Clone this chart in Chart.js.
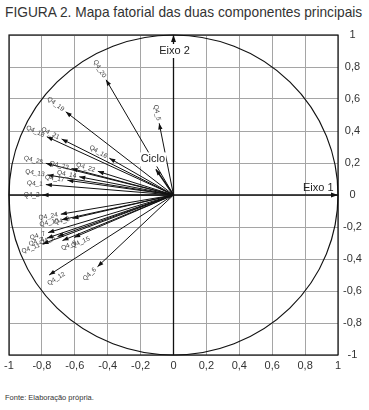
<!DOCTYPE html>
<html lang="pt">
<head>
<meta charset="utf-8">
<script src="https://cdn.jsdelivr.net/npm/chart.js@4.4.0/dist/chart.umd.min.js"></script>
<style>
    body { margin: 0; background: #fff; width: 369px; height: 410px; position: relative; overflow: hidden; }
    #titulo {
        position: absolute; left: 5px; top: 3px; white-space: nowrap;
        font-family: "Liberation Sans", sans-serif;
        font-size: 15px; color: #333; transform-origin: 0 0;
    }
    #grafico { position: absolute; left: 0; top: 0; width: 369px; height: 375px; }
    #fonte {
        position: absolute; left: 5px; top: 393px; white-space: nowrap;
        font-family: "Liberation Sans", sans-serif; font-size: 7.5px; color: #333;
    }
</style>
</head>
<body>
<div id="titulo">FIGURA 2. Mapa fatorial das duas componentes principais</div>
<div id="grafico"><canvas id="mapaFatorial"></canvas></div>
<div id="fonte">Fonte: Elaboração própria.</div>
<script>
// Variáveis e coordenadas nos dois eixos
const variaveis = ['Q4_20', 'Q4_5', 'Q4_19', 'Q4_21', 'Q4_18', 'Q4_16', 'Ciclo', 'Q4_25', 'Q4_23', 'Q4_22',
    'Q4_13', 'Q4_14', 'Q4_17', 'Q4_1', 'Q4_2', 'Q4_24', 'Q4_10', 'Q4_3', 'Q4_7', 'Q4_8',
    'Q4_4', 'Q4_11', 'Q4_9', 'Q4_15', 'Q4_12', 'Q4_6'];
const eixo1 = [-0.41, -0.087, -0.655, -0.68, -0.77, -0.39, -0.107, -0.776, -0.62, -0.46,
    -0.766, -0.573, -0.645, -0.776, -0.796, -0.685, -0.68, -0.614, -0.762, -0.705,
    -0.77, -0.796, -0.675, -0.604, -0.756, -0.462];
const eixo2 = [0.72, 0.448, 0.52, 0.35, 0.364, 0.23, 0.16, 0.198, 0.165, 0.148,
    0.125, 0.114, 0.092, 0.065, 0, -0.12, -0.155, -0.146, -0.235, -0.26,
    -0.27, -0.306, -0.285, -0.265, -0.5, -0.448];

// Rótulos dos eixos
const rotulosX = ['-1', '-0,8', '-0,6', '-0,4', '-0,2', '0', '0,2', '0,4', '0,6', '0,8', '1'];
const rotulosY = ['-1', '-0,8', '-0,6', '-0,4', '-0,2', '0', '0,2', '0,4', '0,6', '0,8', '1'];

// Rótulos que ficam por baixo da ponta da seta
const rotulosAbaixo = ['Q4_12', 'Q4_9', 'Q4_15'];

document.addEventListener('DOMContentLoaded', function() {
    // título estreito como no original
    const titulo = document.getElementById('titulo');
    titulo.style.transform = 'scaleX(' + (357 / titulo.offsetWidth) + ')';

    const ctx = document.getElementById('mapaFatorial').getContext('2d');

    // Uma linha (origem -> ponto) por variável
    const datasets = variaveis.map((nome, i) => ({
        label: nome,
        data: [{ x: 0, y: 0 }, { x: eixo1[i], y: eixo2[i] }],
        showLine: true,
        borderColor: '#111',
        borderWidth: nome === 'Ciclo' ? 1.6 : 1,
        pointRadius: 0,
        pointHoverRadius: 0
    }));

    function seta(c, x, y, ang, tam, larg) {
        c.save();
        c.translate(x, y);
        c.rotate(ang);
        c.beginPath();
        c.moveTo(0, 0);
        c.lineTo(-tam, -larg);
        c.lineTo(-tam, larg);
        c.closePath();
        c.fill();
        c.restore();
    }

    function textoComFundo(c, txt, x, y) {
        const w = c.measureText(txt).width;
        c.fillStyle = '#fff';
        c.fillRect(x - w / 2 - 1, y - 7, w + 2, 14);
        c.fillStyle = '#222';
        c.fillText(txt, x, y);
    }

    // Plugin: círculo, eixos, pontas das setas e rótulos
    const mapaPlugin = {
        id: 'mapaPlugin',
        beforeDatasetsDraw(chart) {
            const c = chart.ctx;
            const sx = chart.scales.x, sy = chart.scales.y;
            const ox = sx.getPixelForValue(0), oy = sy.getPixelForValue(0);
            c.save();
            c.strokeStyle = '#111';
            c.lineWidth = 1.2;
            c.beginPath();
            c.ellipse(ox, oy, sx.getPixelForValue(1) - ox, oy - sy.getPixelForValue(1), 0, 0, Math.PI * 2);
            c.stroke();
            // eixos 1 e 2
            c.lineWidth = 1.3;
            c.beginPath();
            c.moveTo(sx.getPixelForValue(-1), oy);
            c.lineTo(sx.getPixelForValue(1), oy);
            c.moveTo(ox, sy.getPixelForValue(-1));
            c.lineTo(ox, sy.getPixelForValue(1));
            c.stroke();
            c.restore();
        },
        afterDatasetsDraw(chart) {
            const c = chart.ctx;
            const sx = chart.scales.x, sy = chart.scales.y;
            const ox = sx.getPixelForValue(0), oy = sy.getPixelForValue(0);
            const area = chart.chartArea;
            c.save();
            c.fillStyle = '#111';
            seta(c, sx.getPixelForValue(1), oy, 0, 7, 2.5);
            seta(c, ox, sy.getPixelForValue(1), -Math.PI / 2, 7, 2.5);

            variaveis.forEach((nome, i) => {
                const tx = sx.getPixelForValue(eixo1[i]);
                const ty = sy.getPixelForValue(eixo2[i]);
                const ang = Math.atan2(oy - ty, ox - tx);
                c.fillStyle = '#111';
                seta(c, tx, ty, ang + Math.PI, 6, 2.2);

                if (nome === 'Ciclo') {
                    c.font = '11px "Liberation Sans", sans-serif';
                    c.textAlign = 'center';
                    c.textBaseline = 'middle';
                    textoComFundo(c, nome, tx - 3, ty - 10);
                    return;
                }
                c.save();
                c.font = '6.5px "Liberation Sans", sans-serif';
                c.fillStyle = '#3a3a3a';
                c.textBaseline = 'middle';
                if (rotulosAbaixo.includes(nome)) {
                    c.translate(tx, ty);
                    c.rotate(ang);
                    c.textAlign = 'center';
                    c.fillText(nome, 4, 7);
                } else {
                    c.translate(tx - Math.cos(ang) * 3, ty - Math.sin(ang) * 3);
                    c.rotate(ang);
                    c.textAlign = 'right';
                    c.fillText(nome, 0, 0);
                }
                c.restore();
            });

            // nomes dos eixos
            c.font = '11px "Liberation Sans", sans-serif';
            c.textAlign = 'center';
            c.textBaseline = 'middle';
            textoComFundo(c, 'Eixo 2', ox + 1, sy.getPixelForValue(0.9));
            c.fillStyle = '#222';
            c.fillText('Eixo 1', sx.getPixelForValue(0.88), oy - 7);

            // moldura
            c.strokeStyle = '#111';
            c.lineWidth = 1.2;
            c.strokeRect(area.left, area.top, area.right - area.left, area.bottom - area.top);
            c.restore();
        }
    };

    new Chart(ctx, {
        type: 'scatter',
        data: { datasets: datasets },
        options: {
            responsive: true,
            maintainAspectRatio: false,
            animation: false,
            layout: { padding: { left: 9, top: 35, right: 0, bottom: 0 } },
            plugins: {
                legend: { display: false },
                tooltip: { enabled: false }
            },
            scales: {
                x: {
                    type: 'linear',
                    min: -1, max: 1,
                    afterFit: s => { s.height = 20; },
                    grid: { color: '#a5a5a5', lineWidth: 1, drawTicks: false },
                    border: { display: false },
                    ticks: {
                        stepSize: 0.2,
                        padding: 4,
                        color: '#333',
                        font: { family: '"Liberation Sans", sans-serif', size: 11 },
                        maxRotation: 0,
                        callback: (v, i) => rotulosX[i]
                    }
                },
                y: {
                    type: 'linear',
                    position: 'right',
                    min: -1, max: 1,
                    afterFit: s => { s.width = 31; },
                    grid: { color: '#a5a5a5', lineWidth: 1, drawTicks: false },
                    border: { display: false },
                    ticks: {
                        stepSize: 0.2,
                        padding: 5,
                        crossAlign: 'center',
                        color: '#333',
                        font: { family: '"Liberation Sans", sans-serif', size: 11 },
                        callback: (v, i) => rotulosY[i]
                    }
                }
            }
        },
        plugins: [mapaPlugin]
    });
});
</script>
</body>
</html>
